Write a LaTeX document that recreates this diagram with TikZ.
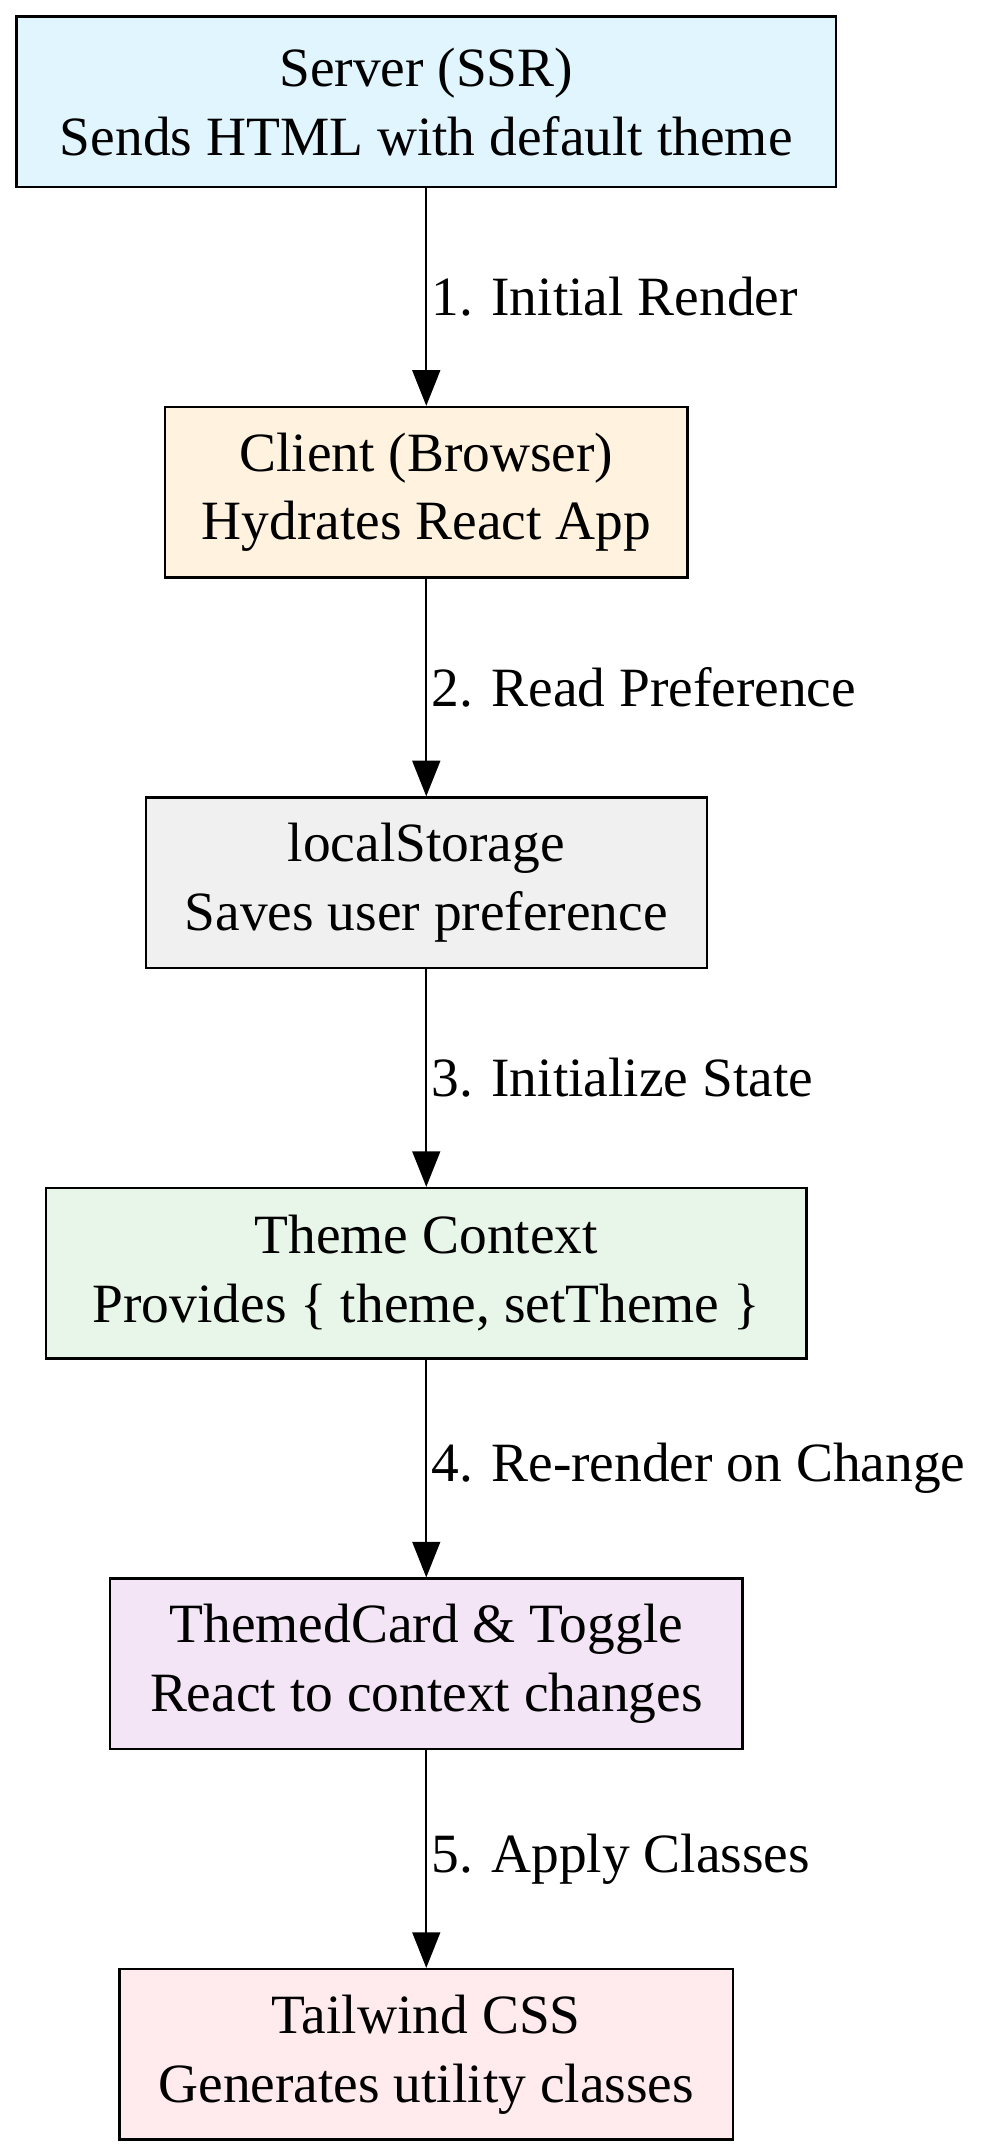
\documentclass[tikz,border=0pt]{standalone}
\usepackage{fontspec}
\setmainfont{Liberation Serif}
\usetikzlibrary{arrows.meta}
\definecolor{node_blue}{HTML}{E1F5FE}
\definecolor{node_orange}{HTML}{FFF3E0}
\definecolor{node_gray}{HTML}{F0F0F0}
\definecolor{node_green}{HTML}{E8F5E9}
\definecolor{node_purple}{HTML}{F3E5F5}
\definecolor{node_red}{HTML}{FFEBEE}

\begin{document}
\begin{tikzpicture}[x=0.0122cm,y=-0.0122cm,semithick,>={Triangle[length=9pt,width=7pt]}]
    \tikzstyle{box}=[draw=black, rectangle, minimum height=124*0.0122cm, align=center, font=\fontsize{14pt}{17.4pt}\selectfont, text=black, inner sep=0pt]
    \tikzstyle{lbl}=[anchor=west, font=\fontsize{14pt}{17pt}\selectfont, inner sep=1pt]
    \useasboundingbox (0,0) rectangle (718,1565);

    \node[box, fill=node_blue,   minimum width=596*0.0122cm] (server) at (310,74)   {Server (SSR)\\Sends HTML with default theme};
    \node[box, fill=node_orange, minimum width=380*0.0122cm] (client) at (310,358)  {Client (Browser)\\Hydrates React App};
    \node[box, fill=node_gray,   minimum width=408*0.0122cm] (store)  at (310,642)  {localStorage\\Saves user preference};
    \node[box, fill=node_green,  minimum width=553*0.0122cm] (ctx)    at (310,926)  {Theme Context\\Provides \{ theme, setTheme \}};
    \node[box, fill=node_purple, minimum width=460*0.0122cm] (card)   at (310,1210) {ThemedCard \& Toggle\\React to context changes};
    \node[box, fill=node_red,    minimum width=446*0.0122cm] (tw)     at (310,1494) {Tailwind CSS\\Generates utility classes};

    \draw[->] (server) -- node[lbl] {1. Initial Render} (client);
    \draw[->] (client) -- node[lbl] {2. Read Preference} (store);
    \draw[->] (store) -- node[lbl] {3. Initialize State} (ctx);
    \draw[->] (ctx) -- node[lbl] {4. Re-render on Change} (card);
    \draw[->] (card) -- node[lbl] {5. Apply Classes} (tw);
\end{tikzpicture}
\end{document}
